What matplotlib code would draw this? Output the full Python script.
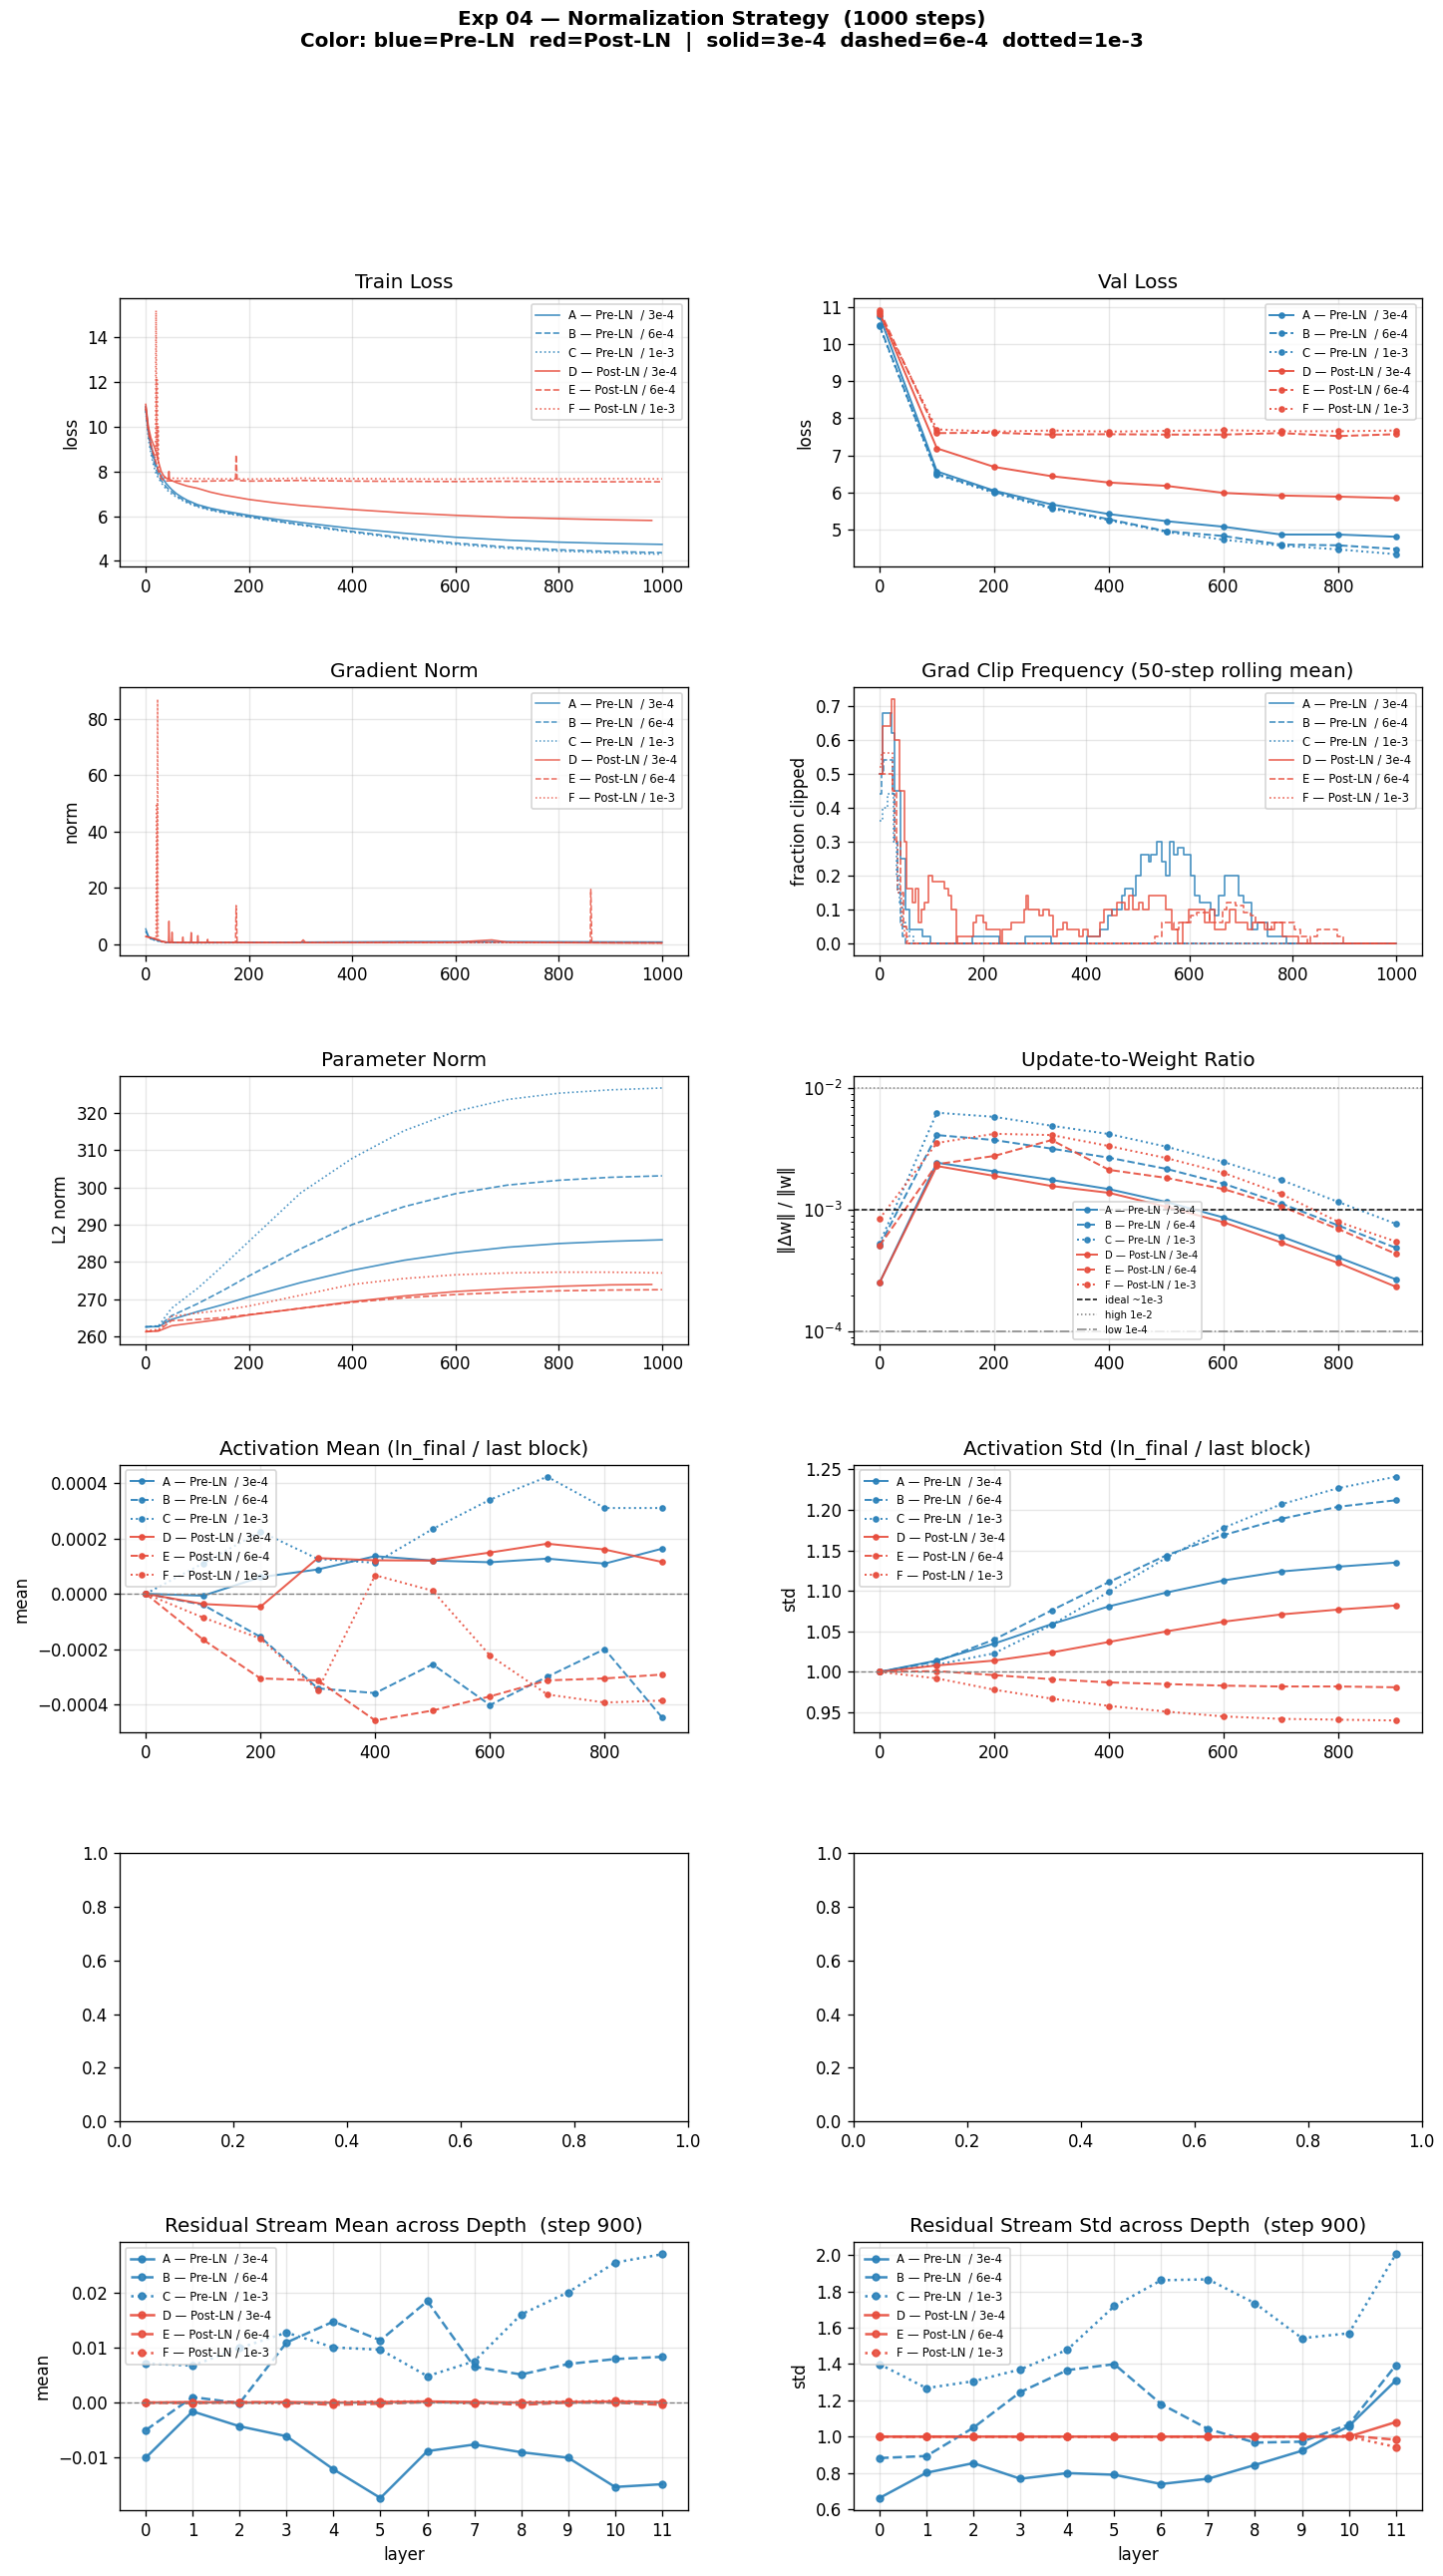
import numpy as np
import matplotlib
matplotlib.use("Agg")
import matplotlib.pyplot as plt

# ------------------------------------------------------------------
# runs
# ------------------------------------------------------------------
RUN_LABELS = ["A — Pre-LN  / 3e-4", "B — Pre-LN  / 6e-4", "C — Pre-LN  / 1e-3",
              "D — Post-LN / 3e-4", "E — Post-LN / 6e-4", "F — Post-LN / 1e-3"]
BLUE = "#2980b9"
RED = "#e74c3c"
RUN_COLORS = [BLUE, BLUE, BLUE, RED, RED, RED]
RUN_STYLES = ["-", "--", ":", "-", "--", ":"]

# ------------------------------------------------------------------
# train loss (per-run step / value samples)
# ------------------------------------------------------------------
train_steps_pre = [0, 5, 10, 15, 20, 25, 30, 40, 50, 60, 70, 80, 100, 125, 150, 200,
                   250, 300, 400, 500, 600, 700, 800, 900, 1000]
train_A = [10.9, 9.9, 9.2, 8.7, 8.3, 8.0, 7.8, 7.45, 7.2, 7.0, 6.85, 6.72, 6.52, 6.36, 6.24, 6.04,
           5.87, 5.72, 5.45, 5.24, 5.06, 4.93, 4.84, 4.78, 4.74]
train_B = [10.8, 9.7, 9.0, 8.5, 8.1, 7.8, 7.6, 7.3, 7.1, 6.9, 6.77, 6.65, 6.46, 6.3, 6.18, 5.98,
           5.8, 5.63, 5.32, 5.03, 4.8, 4.62, 4.5, 4.42, 4.37]
train_C = [10.7, 9.5, 8.8, 8.3, 7.9, 7.7, 7.5, 7.2, 7.0, 6.85, 6.72, 6.6, 6.42, 6.27, 6.15, 5.96,
           5.78, 5.6, 5.28, 4.98, 4.74, 4.56, 4.44, 4.36, 4.3]
train_steps_D = [0, 5, 10, 15, 20, 25, 30, 35, 40, 44, 45, 46, 50, 60, 80, 100, 125, 150, 200,
                 250, 300, 400, 500, 600, 700, 800, 900, 980]
train_D = [11.0, 10.0, 9.5, 9.2, 8.9, 8.4, 8.0, 7.8, 7.7, 7.65, 8.0, 7.65, 7.6, 7.5, 7.35, 7.25,
           7.08, 6.95, 6.75, 6.6, 6.48, 6.3, 6.15, 6.04, 5.95, 5.89, 5.84, 5.81]
train_steps_E = [0, 5, 10, 15, 20, 25, 30, 35, 40, 50, 100, 174, 175, 176, 177, 178, 200, 300,
                 400, 500, 600, 700, 800, 900, 1000]
train_E = [10.9, 9.8, 9.2, 8.8, 8.4, 8.0, 7.7, 7.6, 7.58, 7.58, 7.56, 7.6, 8.75, 8.2, 7.7, 7.6,
           7.57, 7.6, 7.57, 7.56, 7.55, 7.56, 7.55, 7.54, 7.54]
train_steps_F = [0, 5, 10, 15, 19, 20, 21, 22, 23, 24, 25, 28, 32, 40, 50, 100, 200, 300, 400,
                 500, 600, 700, 800, 900, 1000]
train_F = [10.8, 9.8, 9.2, 8.8, 8.6, 15.2, 9.0, 12.1, 8.5, 10.0, 8.2, 7.9, 7.75, 7.7, 7.7, 7.68,
           7.66, 7.7, 7.68, 7.67, 7.66, 7.7, 7.67, 7.68, 7.67]

# ------------------------------------------------------------------
# eval checkpoints (every 100 steps)
# ------------------------------------------------------------------
eval_steps = [0, 100, 200, 300, 400, 500, 600, 700, 800, 900]
val_A = [10.76, 6.57, 6.05, 5.68, 5.42, 5.23, 5.08, 4.87, 4.87, 4.81]
val_B = [10.50, 6.50, 6.02, 5.60, 5.28, 4.96, 4.83, 4.60, 4.58, 4.48]
val_C = [10.48, 6.48, 5.99, 5.57, 5.25, 4.94, 4.73, 4.57, 4.47, 4.34]
val_D = [10.85, 7.19, 6.69, 6.44, 6.27, 6.18, 5.99, 5.92, 5.89, 5.85]
val_E = [10.90, 7.60, 7.61, 7.56, 7.57, 7.56, 7.56, 7.60, 7.52, 7.57]
val_F = [10.80, 7.70, 7.64, 7.67, 7.64, 7.66, 7.68, 7.65, 7.65, 7.67]

# ------------------------------------------------------------------
# gradient norm
# ------------------------------------------------------------------
gn_steps_pre = [0, 5, 10, 20, 30, 40, 60, 100, 200, 300, 400, 500, 600, 700, 800, 900, 1000]
gn_A = [5.5, 3.0, 2.2, 1.6, 1.1, 0.8, 0.6, 0.6, 0.7, 0.8, 0.9, 1.0, 1.0, 1.0, 0.95, 0.9, 0.85]
gn_B = [4.8, 2.8, 2.0, 1.4, 1.0, 0.7, 0.6, 0.6, 0.65, 0.7, 0.75, 0.8, 0.8, 0.8, 0.75, 0.7, 0.7]
gn_C = [4.5, 2.6, 1.9, 1.3, 0.9, 0.7, 0.6, 0.5, 0.6, 0.6, 0.7, 0.7, 0.7, 0.7, 0.7, 0.6, 0.6]
gn_steps_D = [0, 10, 20, 30, 40, 44, 45, 46, 50, 51, 52, 60, 71, 72, 73, 87, 88, 89, 100, 101,
              102, 119, 120, 121, 200, 300, 305, 310, 400, 500, 600, 670, 700, 800, 900, 1000]
gn_D = [2.8, 2.4, 2.0, 1.2, 0.8, 0.8, 8.2, 0.9, 0.8, 4.3, 0.8, 0.7, 0.7, 2.6, 0.7, 0.7, 4.2, 0.7,
        0.7, 3.1, 0.7, 0.7, 1.8, 0.7, 0.6, 0.6, 1.6, 0.6, 0.6, 0.7, 0.8, 1.6, 0.8, 0.6, 0.5, 0.5]
gn_steps_E = [0, 10, 20, 30, 40, 100, 174, 175, 176, 177, 300, 500, 700, 861, 862, 863, 864, 1000]
gn_E = [2.8, 2.3, 1.8, 1.0, 0.7, 0.6, 0.7, 13.8, 9.0, 0.7, 0.6, 0.6, 0.7, 0.6, 19.5, 12.0, 0.6, 0.5]
gn_steps_F = [0, 10, 19, 20, 21, 22, 23, 24, 25, 30, 40, 100, 300, 500, 700, 900, 1000]
gn_F = [2.8, 2.3, 2.0, 3.0, 50.0, 2.5, 87.0, 3.0, 1.5, 1.0, 0.7, 0.6, 0.6, 0.7, 0.7, 0.6, 0.5]

# ------------------------------------------------------------------
# grad clip frequency (50-step rolling mean), breakpoints of the step curves
# ------------------------------------------------------------------
clip_steps_A = [0, 6, 24, 30, 40, 50, 58, 84, 99, 179, 231, 283, 333, 401, 427, 443, 451, 470,
                475, 490, 497, 506, 522, 526, 538, 546, 554, 562, 570, 578, 590, 602, 610, 621,
                641, 649, 657, 669, 695, 705, 721, 733, 752, 788, 1000]
clip_A = [0.5, 0.68, 0.62, 0.45, 0.25, 0.1, 0.04, 0.02, 0.0, 0.02, 0.0, 0.02, 0.0, 0.02, 0.04,
          0.08, 0.1, 0.14, 0.16, 0.14, 0.2, 0.26, 0.24, 0.26, 0.3, 0.24, 0.2, 0.3, 0.26, 0.28,
          0.26, 0.2, 0.14, 0.12, 0.1, 0.08, 0.14, 0.2, 0.14, 0.12, 0.04, 0.06, 0.02, 0.0, 0.0]
clip_steps_B = [0, 4, 8, 25, 30, 35, 40, 45, 50, 1000]
clip_B = [0.44, 0.5, 0.54, 0.44, 0.3, 0.15, 0.06, 0.02, 0.0, 0.0]
clip_steps_C = [0, 6, 15, 28, 33, 38, 44, 50, 58, 65, 1000]
clip_C = [0.36, 0.4, 0.44, 0.3, 0.2, 0.12, 0.06, 0.04, 0.02, 0.0, 0.0]
clip_steps_D = [0, 6, 21, 24, 30, 38, 48, 52, 64, 70, 75, 82, 87, 95, 102, 125, 133, 140, 148,
                151, 181, 187, 201, 206, 234, 238, 256, 280, 284, 288, 310, 316, 328, 336, 344,
                356, 363, 387, 395, 403, 427, 435, 451, 459, 475, 483, 490, 502, 510, 522, 554,
                566, 578, 588, 598, 630, 640, 650, 670, 678, 690, 712, 722, 745, 765, 780, 812, 1000]
clip_D = [0.5, 0.64, 0.68, 0.72, 0.6, 0.45, 0.3, 0.16, 0.12, 0.16, 0.06, 0.1, 0.12, 0.2, 0.18,
          0.16, 0.14, 0.1, 0.0, 0.02, 0.06, 0.08, 0.06, 0.04, 0.0, 0.04, 0.06, 0.1, 0.14, 0.1,
          0.08, 0.1, 0.08, 0.02, 0.04, 0.06, 0.04, 0.02, 0.04, 0.02, 0.06, 0.1, 0.08, 0.12, 0.1,
          0.14, 0.1, 0.12, 0.1, 0.14, 0.1, 0.04, 0.0, 0.06, 0.1, 0.06, 0.1, 0.04, 0.06, 0.1,
          0.06, 0.04, 0.06, 0.04, 0.06, 0.02, 0.0, 0.0]
clip_steps_E = [0, 25, 32, 40, 46, 52, 534, 546, 570, 580, 602, 614, 640, 665, 673, 690, 705,
                718, 729, 752, 760, 804, 816, 828, 834, 848, 887, 899, 1000]
clip_E = [0.5, 0.45, 0.3, 0.15, 0.05, 0.0, 0.02, 0.06, 0.04, 0.06, 0.08, 0.09, 0.06, 0.1, 0.12,
          0.11, 0.09, 0.08, 0.06, 0.04, 0.06, 0.04, 0.02, 0.0, 0.02, 0.04, 0.02, 0.0, 0.0]
clip_steps_F = [0, 4, 25, 30, 35, 42, 48, 55, 1000]
clip_F = [0.52, 0.56, 0.45, 0.3, 0.15, 0.05, 0.02, 0.0, 0.0]

# ------------------------------------------------------------------
# parameter norm
# ------------------------------------------------------------------
pn_steps = [0, 25, 50, 100, 150, 200, 300, 400, 500, 600, 700, 800, 900, 1000]
pn_A = [262.5, 262.6, 264.5, 266.6, 268.5, 270.6, 274.4, 277.7, 280.4, 282.4, 283.9, 284.9, 285.5, 285.9]
pn_B = [262.5, 262.7, 265.5, 268.7, 272.3, 276.2, 283.5, 290.0, 294.8, 298.3, 300.6, 301.9, 302.7, 303.1]
pn_C = [262.5, 262.8, 267.5, 272.8, 279.0, 285.5, 298.5, 307.8, 315.2, 320.4, 323.6, 325.3, 326.2, 326.7]
pn_steps_D = [0, 25, 50, 100, 150, 200, 300, 400, 500, 600, 700, 800, 900, 980]
pn_D = [261.2, 261.4, 262.8, 263.7, 264.6, 265.7, 267.5, 269.3, 270.8, 272.0, 272.8, 273.4, 273.8, 273.9]
pn_E = [261.2, 261.5, 264.2, 264.5, 265.0, 265.8, 267.5, 269.1, 270.3, 271.2, 271.8, 272.2, 272.4, 272.5]
pn_F = [261.5, 261.8, 265.3, 266.2, 267.0, 268.1, 271.0, 273.9, 275.5, 276.5, 277.0, 277.2, 277.2, 277.0]

# ------------------------------------------------------------------
# update-to-weight ratio
# ------------------------------------------------------------------
uw_A = [2.52e-4, 2.44e-3, 2.07e-3, 1.76e-3, 1.48e-3, 1.16e-3, 8.65e-4, 6.05e-4, 4.07e-4, 2.69e-4]
uw_B = [5.07e-4, 4.11e-3, 3.74e-3, 3.18e-3, 2.68e-3, 2.17e-3, 1.64e-3, 1.13e-3, 7.44e-4, 4.88e-4]
uw_C = [5.3e-4, 6.27e-3, 5.8e-3, 4.9e-3, 4.19e-3, 3.3e-3, 2.47e-3, 1.76e-3, 1.16e-3, 7.68e-4]
uw_D = [2.52e-4, 2.29e-3, 1.9e-3, 1.57e-3, 1.38e-3, 1.06e-3, 7.9e-4, 5.4e-4, 3.66e-4, 2.34e-4]
uw_E = [5.07e-4, 2.37e-3, 2.77e-3, 3.74e-3, 2.13e-3, 1.83e-3, 1.48e-3, 1.07e-3, 6.95e-4, 4.36e-4]
uw_F = [8.44e-4, 3.54e-3, 4.21e-3, 4.11e-3, 3.34e-3, 2.66e-3, 2.01e-3, 1.35e-3, 7.97e-4, 5.5e-4]

# ------------------------------------------------------------------
# activation stats (ln_final / last block)
# ------------------------------------------------------------------
am_A = [0.0, -0.07e-4, 0.6e-4, 0.88e-4, 1.36e-4, 1.2e-4, 1.14e-4, 1.27e-4, 1.09e-4, 1.63e-4]
am_B = [0.0, -0.4e-4, -1.56e-4, -3.42e-4, -3.59e-4, -2.55e-4, -4.02e-4, -3.0e-4, -2.0e-4, -4.47e-4]
am_C = [0.0, 1.1e-4, 2.25e-4, 1.26e-4, 1.12e-4, 2.34e-4, 3.4e-4, 4.23e-4, 3.1e-4, 3.1e-4]
am_D = [0.0, -0.37e-4, -0.47e-4, 1.29e-4, 1.21e-4, 1.2e-4, 1.49e-4, 1.81e-4, 1.6e-4, 1.15e-4]
am_E = [0.0, -1.66e-4, -3.06e-4, -3.13e-4, -4.58e-4, -4.22e-4, -3.71e-4, -3.13e-4, -3.06e-4, -2.92e-4]
am_F = [0.0, -0.86e-4, -1.62e-4, -3.48e-4, 0.67e-4, 0.11e-4, -2.23e-4, -3.64e-4, -3.93e-4, -3.86e-4]

as_A = [1.0, 1.014, 1.035, 1.059, 1.081, 1.098, 1.113, 1.124, 1.130, 1.135]
as_B = [1.0, 1.013, 1.040, 1.076, 1.111, 1.144, 1.169, 1.189, 1.204, 1.212]
as_C = [1.0, 1.009, 1.023, 1.058, 1.099, 1.141, 1.178, 1.207, 1.227, 1.241]
as_D = [1.0, 1.008, 1.014, 1.024, 1.037, 1.050, 1.062, 1.071, 1.077, 1.082]
as_E = [1.0, 1.001, 0.996, 0.991, 0.987, 0.985, 0.983, 0.982, 0.982, 0.981]
as_F = [1.0, 0.992, 0.978, 0.967, 0.958, 0.951, 0.945, 0.942, 0.941, 0.940]

# ------------------------------------------------------------------
# residual stream across depth (step 900)
# ------------------------------------------------------------------
layers = list(range(12))
rm_A = [-0.0100, -0.0016, -0.0043, -0.0061, -0.0121, -0.0173, -0.0088, -0.0076, -0.0090, -0.0100, -0.0153, -0.0148]
rm_B = [-0.0050, 0.0010, -0.0001, 0.0109, 0.0147, 0.0113, 0.0184, 0.0065, 0.0051, 0.0070, 0.0079, 0.0083]
rm_C = [0.0071, 0.0067, 0.0099, 0.0127, 0.0100, 0.0096, 0.0048, 0.0075, 0.0160, 0.0200, 0.0254, 0.0269]
rm_D = [0.0, 0.0001, 0.0, 0.0001, 0.0, 0.0001, 0.0002, 0.0001, 0.0, 0.0001, 0.0002, 0.0001]
rm_E = [0.0, -0.0001, 0.0001, 0.0, -0.0004, -0.0002, 0.0001, 0.0, -0.0004, 0.0, 0.0, -0.0004]
rm_F = [0.0, 0.0, 0.0, -0.0002, 0.0001, 0.0002, 0.0002, -0.0002, 0.0001, 0.0002, 0.0003, 0.0]

rs_A = [0.662, 0.801, 0.854, 0.768, 0.799, 0.790, 0.739, 0.768, 0.844, 0.922, 1.058, 1.309]
rs_B = [0.882, 0.893, 1.049, 1.245, 1.366, 1.399, 1.179, 1.042, 0.967, 0.972, 1.067, 1.393]
rs_C = [1.399, 1.267, 1.305, 1.370, 1.478, 1.718, 1.861, 1.866, 1.734, 1.542, 1.569, 2.004]
rs_D = [1.0, 1.0, 1.0, 1.0, 1.0, 1.0, 1.0, 1.0, 1.0, 1.0, 1.0, 1.080]
rs_E = [1.0, 1.0, 1.0, 1.0, 1.0, 1.0, 1.0, 1.0, 1.0, 1.0, 1.005, 0.983]
rs_F = [1.0, 1.0, 1.0, 1.0, 1.0, 1.0, 1.0, 1.0, 1.0, 1.0, 1.0, 0.943]


def plot_lines(ax, xs, ys, lw=1.0, alpha=0.85, steps=False):
    for i in range(6):
        ax.plot(xs[i], ys[i], color=RUN_COLORS[i], ls=RUN_STYLES[i], lw=lw, alpha=alpha,
                label=RUN_LABELS[i], drawstyle="steps-post" if steps else "default")


def plot_markers(ax, x, ys, lw=1.2, ms=3):
    for i in range(6):
        ax.plot(x, ys[i], color=RUN_COLORS[i], ls=RUN_STYLES[i], lw=lw, marker="o", ms=ms,
                alpha=0.9, label=RUN_LABELS[i])


def main():
    DPI = 120
    fig, axs = plt.subplots(6, 2, figsize=(1447 / DPI, 2583 / DPI), dpi=DPI)
    fig.subplots_adjust(left=0.0831, right=0.9852, top=0.8842, bottom=0.02555,
                        wspace=0.292, hspace=0.45)
    fig.suptitle("Exp 04 — Normalization Strategy  (1000 steps)\n"
                 "Color: blue=Pre-LN  red=Post-LN  |  solid=3e-4  dashed=6e-4  dotted=1e-3",
                 fontsize=12, fontweight="bold", y=0.996, va="top")

    # train loss
    ax = axs[0, 0]
    plot_lines(ax, [train_steps_pre, train_steps_pre, train_steps_pre,
                    train_steps_D, train_steps_E, train_steps_F],
               [train_A, train_B, train_C, train_D, train_E, train_F])
    ax.set_title("Train Loss")
    ax.set_ylabel("loss")
    ax.legend(fontsize=7, loc="upper right")

    # val loss
    ax = axs[0, 1]
    plot_markers(ax, eval_steps, [val_A, val_B, val_C, val_D, val_E, val_F])
    ax.set_title("Val Loss")
    ax.set_ylabel("loss")
    ax.legend(fontsize=7, loc="upper right")

    # gradient norm
    ax = axs[1, 0]
    plot_lines(ax, [gn_steps_pre, gn_steps_pre, gn_steps_pre, gn_steps_D, gn_steps_E, gn_steps_F],
               [gn_A, gn_B, gn_C, gn_D, gn_E, gn_F], lw=0.9)
    ax.set_title("Gradient Norm")
    ax.set_ylabel("norm")
    ax.legend(fontsize=7, loc="upper right")

    # clip frequency
    ax = axs[1, 1]
    plot_lines(ax, [clip_steps_A, clip_steps_B, clip_steps_C, clip_steps_D, clip_steps_E, clip_steps_F],
               [clip_A, clip_B, clip_C, clip_D, clip_E, clip_F], lw=1.0, steps=True)
    ax.set_title("Grad Clip Frequency (50-step rolling mean)")
    ax.set_ylabel("fraction clipped")
    ax.legend(fontsize=7, loc="upper right")

    # parameter norm
    ax = axs[2, 0]
    plot_lines(ax, [pn_steps, pn_steps, pn_steps, pn_steps_D, pn_steps, pn_steps],
               [pn_A, pn_B, pn_C, pn_D, pn_E, pn_F])
    ax.set_title("Parameter Norm")
    ax.set_ylabel("L2 norm")

    # update-to-weight ratio
    ax = axs[2, 1]
    plot_markers(ax, eval_steps, [uw_A, uw_B, uw_C, uw_D, uw_E, uw_F])
    ax.axhline(1e-3, color="black", ls="--", lw=0.9, label="ideal ~1e-3")
    ax.axhline(1e-2, color="gray", ls=":", lw=0.9, label="high 1e-2")
    ax.axhline(1e-4, color="gray", ls="-.", lw=0.9, label="low 1e-4")
    ax.set_yscale("log")
    ax.set_title("Update-to-Weight Ratio")
    ax.set_ylabel("‖Δw‖ / ‖w‖")
    ax.legend(fontsize=6, loc="lower center")

    # activation mean
    ax = axs[3, 0]
    plot_markers(ax, eval_steps, [am_A, am_B, am_C, am_D, am_E, am_F])
    ax.axhline(0, color="gray", ls="--", lw=0.8)
    ax.set_title("Activation Mean (ln_final / last block)")
    ax.set_ylabel("mean")
    ax.legend(fontsize=7, loc="upper left")

    # activation std
    ax = axs[3, 1]
    plot_markers(ax, eval_steps, [as_A, as_B, as_C, as_D, as_E, as_F])
    ax.axhline(1, color="gray", ls="--", lw=0.8)
    ax.set_title("Activation Std (ln_final / last block)")
    ax.set_ylabel("std")
    ax.legend(fontsize=7, loc="upper left")

    # residual stream
    ax = axs[5, 0]
    plot_markers(ax, layers, [rm_A, rm_B, rm_C, rm_D, rm_E, rm_F], lw=1.5, ms=4)
    ax.axhline(0, color="gray", ls="--", lw=0.8)
    ax.set_title("Residual Stream Mean across Depth  (step 900)")
    ax.set_ylabel("mean")
    ax.set_xlabel("layer")
    ax.set_xticks(layers)
    ax.legend(fontsize=7, loc="upper left")

    ax = axs[5, 1]
    plot_markers(ax, layers, [rs_A, rs_B, rs_C, rs_D, rs_E, rs_F], lw=1.5, ms=4)
    ax.set_title("Residual Stream Std across Depth  (step 900)")
    ax.set_ylabel("std")
    ax.set_xlabel("layer")
    ax.set_xticks(layers)
    ax.legend(fontsize=7, loc="upper left")

    for a in [axs[0, 0], axs[0, 1], axs[1, 0], axs[1, 1], axs[2, 0], axs[2, 1],
              axs[3, 0], axs[3, 1], axs[5, 0], axs[5, 1]]:
        a.grid(True, alpha=0.3)

    fig.savefig("out.png", dpi=DPI)


if __name__ == "__main__":
    main()
